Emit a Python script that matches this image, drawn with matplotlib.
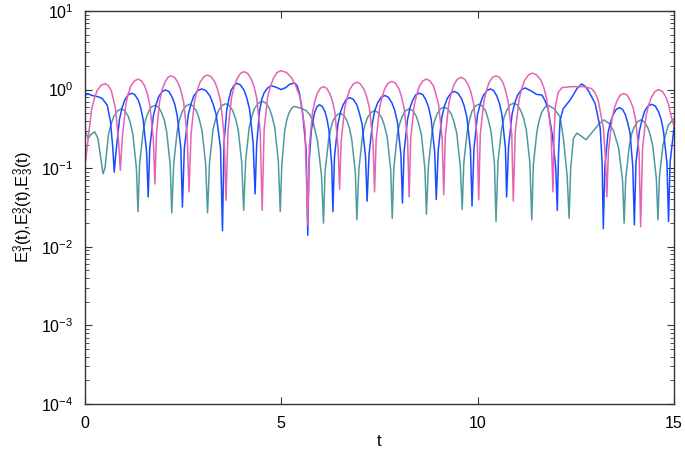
import matplotlib
matplotlib.use("Agg")
import matplotlib.pyplot as plt
from matplotlib.ticker import LogLocator, NullFormatter

plt.rcParams['font.family'] = ['Liberation Sans', 'DejaVu Sans']
plt.rcParams['mathtext.fontset'] = 'custom'
plt.rcParams['mathtext.rm'] = 'Liberation Sans'
plt.rcParams['mathtext.it'] = 'Liberation Sans'

# values, one line per lobe (dip to dip)
t_pink = [0.00, 0.03,
          0.08, 0.18, 0.25, 0.32, 0.42, 0.52, 0.60, 0.68, 0.73, 0.79, 0.87, 0.91,
          0.96, 1.05, 1.11, 1.18, 1.27, 1.36, 1.45, 1.53, 1.60, 1.66, 1.75, 1.79,
          1.83, 1.91, 1.97, 2.04, 2.12, 2.20, 2.29, 2.38, 2.45, 2.52, 2.61, 2.66,
          2.71, 2.80, 2.87, 2.94, 3.04, 3.13, 3.22, 3.32, 3.39, 3.46, 3.55, 3.60,
          3.65, 3.74, 3.81, 3.88, 3.97, 4.06, 4.15, 4.24, 4.31, 4.38, 4.47, 4.52,
          4.57, 4.66, 4.74, 4.81, 4.90, 5.00, 5.14, 5.27, 5.37, 5.48, 5.61, 5.68,
          5.72, 5.80, 5.86, 5.92, 6.00, 6.08, 6.16, 6.24, 6.31, 6.37, 6.45, 6.49,
          6.53, 6.62, 6.69, 6.75, 6.84, 6.93, 7.02, 7.11, 7.18, 7.25, 7.34, 7.38,
          7.42, 7.51, 7.58, 7.64, 7.73, 7.82, 7.91, 8.00, 8.06, 8.13, 8.22, 8.26,
          8.30, 8.39, 8.46, 8.52, 8.61, 8.70, 8.79, 8.88, 8.94, 9.01, 9.10, 9.14,
          9.18, 9.27, 9.34, 9.40, 9.49, 9.58, 9.67, 9.76, 9.83, 9.90, 9.99, 10.03,
          10.07, 10.16, 10.23, 10.29, 10.38, 10.47, 10.56, 10.65, 10.71, 10.78, 10.87, 10.91,
          10.96, 11.06, 11.13, 11.20, 11.30, 11.40, 11.50, 11.61, 11.69, 11.76, 11.87, 11.92,
          11.95, 11.98, 12.05, 12.15, 12.40, 12.70, 12.90, 12.99, 13.07, 13.20, 13.26, 13.29,
          13.33, 13.42, 13.48, 13.55, 13.63, 13.72, 13.81, 13.89, 13.96, 14.02, 14.11, 14.15,
          14.20, 14.29, 14.36, 14.43, 14.52, 14.61, 14.70, 14.79, 14.86, 14.92, 15.00]
E_pink = [0.16, 0.125,
          0.21, 0.56, 0.77, 0.97, 1.13, 1.19, 1.13, 0.97, 0.77, 0.56, 0.21, 0.094,
          0.24, 0.64, 0.88, 1.11, 1.29, 1.36, 1.29, 1.11, 0.88, 0.64, 0.24, 0.063,
          0.27, 0.70, 0.98, 1.22, 1.43, 1.50, 1.43, 1.22, 0.98, 0.70, 0.27, 0.050,
          0.27, 0.72, 0.99, 1.24, 1.46, 1.53, 1.46, 1.24, 0.99, 0.72, 0.27, 0.039,
          0.30, 0.79, 1.10, 1.37, 1.61, 1.69, 1.61, 1.37, 1.10, 0.79, 0.30, 0.029,
          0.31, 0.81, 1.13, 1.41, 1.65, 1.74, 1.65, 1.41, 1.13, 0.81, 0.31, 0.019,
          0.19, 0.51, 0.71, 0.89, 1.04, 1.09, 1.04, 0.89, 0.71, 0.51, 0.19, 0.054,
          0.22, 0.58, 0.81, 1.01, 1.18, 1.24, 1.18, 1.01, 0.81, 0.58, 0.22, 0.050,
          0.23, 0.59, 0.83, 1.03, 1.21, 1.27, 1.21, 1.03, 0.83, 0.59, 0.23, 0.043,
          0.24, 0.64, 0.88, 1.11, 1.29, 1.36, 1.29, 1.11, 0.88, 0.64, 0.24, 0.046,
          0.25, 0.67, 0.93, 1.16, 1.36, 1.43, 1.36, 1.16, 0.93, 0.67, 0.25, 0.040,
          0.27, 0.70, 0.98, 1.22, 1.43, 1.50, 1.43, 1.22, 0.98, 0.70, 0.27, 0.038,
          0.29, 0.76, 1.05, 1.32, 1.54, 1.62, 1.54, 1.32, 1.05, 0.76, 0.29, 0.050,
          0.30, 0.60, 0.92, 1.06, 1.09, 1.09, 1.03, 0.91, 0.73, 0.33, 0.12, 0.043,
          0.16, 0.42, 0.58, 0.72, 0.85, 0.89, 0.85, 0.72, 0.58, 0.42, 0.16, 0.018,
          0.18, 0.47, 0.65, 0.81, 0.95, 1.00, 0.95, 0.81, 0.65, 0.47, 0.34]

t_blue = [0.00, 0.08, 0.20, 0.35, 0.45, 0.58, 0.66, 0.72, 0.755,
          0.80, 0.89, 0.955, 1.02, 1.11, 1.20, 1.28, 1.37, 1.43, 1.49, 1.58, 1.62,
          1.66, 1.75, 1.82, 1.88, 1.97, 2.06, 2.15, 2.23, 2.30, 2.36, 2.45, 2.49,
          2.54, 2.64, 2.71, 2.78, 2.88, 2.98, 3.09, 3.19, 3.27, 3.35, 3.46, 3.51,
          3.55, 3.62, 3.68, 3.73, 3.81, 3.88, 3.97, 4.06, 4.13, 4.20, 4.29, 4.34,
          4.38, 4.45, 4.51, 4.57, 4.66, 4.75, 4.88, 5.00, 5.12, 5.21, 5.34, 5.41, 5.47, 5.55, 5.64, 5.68,
          5.71, 5.77, 5.82, 5.86, 5.92, 5.98, 6.05, 6.12, 6.17, 6.22, 6.29, 6.32,
          6.36, 6.45, 6.51, 6.58, 6.66, 6.75, 6.84, 6.93, 6.99, 7.06, 7.15, 7.19,
          7.24, 7.33, 7.39, 7.46, 7.55, 7.64, 7.73, 7.82, 7.89, 7.96, 8.05, 8.09,
          8.13, 8.22, 8.28, 8.35, 8.43, 8.52, 8.61, 8.69, 8.76, 8.82, 8.91, 8.95,
          9.00, 9.09, 9.16, 9.23, 9.32, 9.41, 9.50, 9.59, 9.66, 9.73, 9.82, 9.86,
          9.91, 10.00, 10.07, 10.14, 10.24, 10.33, 10.41, 10.49, 10.56, 10.62, 10.71, 10.74,
          10.79, 10.88, 10.95, 11.02, 11.12, 11.21, 11.35, 11.50, 11.64, 11.72, 11.80, 11.91, 11.99, 12.03,
          12.06, 12.10, 12.18, 12.35, 12.45, 12.53, 12.65, 12.74, 12.82, 12.99, 13.12, 13.17, 13.20,
          13.24, 13.32, 13.38, 13.45, 13.53, 13.61, 13.69, 13.76, 13.82, 13.88, 13.95, 13.99,
          14.03, 14.12, 14.19, 14.25, 14.34, 14.43, 14.52, 14.60, 14.67, 14.73, 14.82, 14.86,
          14.90, 15.00]
E_blue = [0.84, 0.88, 0.84, 0.81, 0.77, 0.63, 0.39, 0.18, 0.089,
          0.16, 0.42, 0.585, 0.73, 0.86, 0.90, 0.86, 0.73, 0.585, 0.42, 0.16, 0.043,
          0.18, 0.46, 0.64, 0.80, 0.94, 0.99, 0.94, 0.80, 0.64, 0.46, 0.18, 0.032,
          0.18, 0.48, 0.66, 0.83, 0.97, 1.02, 0.97, 0.83, 0.66, 0.48, 0.18, 0.016,
          0.21, 0.56, 0.78, 0.98, 1.14, 1.20, 1.14, 0.98, 0.78, 0.56, 0.21, 0.047,
          0.20, 0.52, 0.75, 0.91, 1.05, 1.12, 1.07, 1.00, 1.06, 1.16, 1.22, 1.12, 0.89, 0.50, 0.17, 0.014,
          0.11, 0.30, 0.42, 0.52, 0.61, 0.64, 0.61, 0.52, 0.42, 0.30, 0.11, 0.028,
          0.14, 0.37, 0.51, 0.64, 0.75, 0.79, 0.75, 0.64, 0.51, 0.37, 0.14, 0.038,
          0.15, 0.39, 0.55, 0.68, 0.80, 0.84, 0.80, 0.68, 0.55, 0.39, 0.15, 0.036,
          0.16, 0.42, 0.585, 0.73, 0.86, 0.90, 0.86, 0.73, 0.585, 0.42, 0.16, 0.040,
          0.17, 0.44, 0.62, 0.77, 0.90, 0.95, 0.90, 0.77, 0.62, 0.44, 0.17, 0.033,
          0.18, 0.48, 0.66, 0.83, 0.97, 1.02, 0.97, 0.83, 0.66, 0.48, 0.18, 0.043,
          0.19, 0.49, 0.68, 0.85, 1.00, 1.05, 0.97, 0.87, 0.85, 0.72, 0.55, 0.25, 0.10, 0.029,
          0.15, 0.41, 0.57, 0.73, 0.88, 1.03, 1.18, 1.10, 0.97, 0.67, 0.33, 0.12, 0.017,
          0.105, 0.28, 0.38, 0.48, 0.56, 0.59, 0.56, 0.48, 0.38, 0.28, 0.105, 0.019,
          0.116, 0.30, 0.42, 0.53, 0.62, 0.65, 0.62, 0.53, 0.42, 0.30, 0.116, 0.021,
          0.12, 0.33]

t_teal = [0.00, 0.09, 0.17, 0.26, 0.34, 0.40, 0.47,
          0.52, 0.61, 0.68, 0.75, 0.85, 0.94, 1.02, 1.11, 1.17, 1.23, 1.32, 1.36,
          1.40, 1.49, 1.55, 1.62, 1.70, 1.79, 1.88, 1.96, 2.03, 2.09, 2.18, 2.22,
          2.27, 2.36, 2.42, 2.49, 2.58, 2.67, 2.76, 2.85, 2.92, 2.99, 3.08, 3.13,
          3.18, 3.27, 3.34, 3.41, 3.50, 3.59, 3.68, 3.77, 3.84, 3.91, 4.00, 4.05,
          4.10, 4.19, 4.26, 4.33, 4.43, 4.52, 4.61, 4.70, 4.77, 4.84, 4.93, 4.98,
          5.02, 5.09, 5.14, 5.20, 5.27, 5.34, 5.50, 5.64, 5.73, 5.81, 5.93, 6.03, 6.08,
          6.12, 6.21, 6.27, 6.33, 6.42, 6.50, 6.59, 6.67, 6.74, 6.80, 6.89, 6.93,
          6.98, 7.07, 7.13, 7.20, 7.29, 7.38, 7.47, 7.56, 7.63, 7.70, 7.79, 7.83,
          7.87, 7.96, 8.02, 8.09, 8.17, 8.26, 8.35, 8.44, 8.50, 8.57, 8.66, 8.70,
          8.75, 8.84, 8.90, 8.97, 9.06, 9.15, 9.24, 9.33, 9.40, 9.47, 9.56, 9.61,
          9.65, 9.74, 9.80, 9.86, 9.95, 10.03, 10.12, 10.21, 10.27, 10.34, 10.43, 10.47,
          10.52, 10.61, 10.67, 10.74, 10.83, 10.92, 11.01, 11.10, 11.17, 11.24, 11.33, 11.38,
          11.42, 11.51, 11.57, 11.63, 11.72, 11.80, 11.95, 12.10, 12.18, 12.28, 12.33,
          12.37, 12.44, 12.53, 12.62, 12.76, 12.95, 13.10, 13.22, 13.35, 13.46, 13.59, 13.69, 13.73,
          13.77, 13.86, 13.92, 13.98, 14.07, 14.15, 14.24, 14.33, 14.39, 14.46, 14.55, 14.59,
          14.63, 14.72, 14.85, 15.00]
E_teal = [0.32, 0.24, 0.27, 0.29, 0.24, 0.15, 0.085,
          0.10, 0.27, 0.37, 0.46, 0.54, 0.57, 0.54, 0.46, 0.37, 0.27, 0.10, 0.028,
          0.11, 0.29, 0.41, 0.51, 0.60, 0.63, 0.60, 0.51, 0.41, 0.29, 0.11, 0.027,
          0.116, 0.30, 0.42, 0.53, 0.62, 0.65, 0.62, 0.53, 0.42, 0.30, 0.116, 0.027,
          0.117, 0.31, 0.43, 0.54, 0.63, 0.66, 0.63, 0.54, 0.43, 0.31, 0.117, 0.029,
          0.126, 0.33, 0.46, 0.58, 0.675, 0.71, 0.675, 0.58, 0.46, 0.33, 0.126, 0.028,
          0.11, 0.29, 0.40, 0.50, 0.58, 0.61, 0.58, 0.54, 0.48, 0.40, 0.22, 0.08, 0.020,
          0.089, 0.23, 0.325, 0.41, 0.475, 0.50, 0.475, 0.41, 0.325, 0.23, 0.089, 0.022,
          0.096, 0.25, 0.35, 0.44, 0.51, 0.54, 0.51, 0.44, 0.35, 0.25, 0.096, 0.023,
          0.10, 0.27, 0.37, 0.46, 0.54, 0.57, 0.54, 0.46, 0.37, 0.27, 0.10, 0.026,
          0.107, 0.28, 0.39, 0.49, 0.57, 0.60, 0.57, 0.49, 0.39, 0.28, 0.107, 0.030,
          0.116, 0.30, 0.42, 0.53, 0.62, 0.65, 0.62, 0.53, 0.42, 0.30, 0.116, 0.021,
          0.12, 0.31, 0.435, 0.54, 0.64, 0.67, 0.64, 0.54, 0.435, 0.31, 0.12, 0.022,
          0.11, 0.29, 0.41, 0.51, 0.60, 0.63, 0.57, 0.45, 0.25, 0.08, 0.023,
          0.10, 0.24, 0.28, 0.26, 0.23, 0.30, 0.37, 0.41, 0.37, 0.30, 0.18, 0.07, 0.020,
          0.073, 0.19, 0.27, 0.33, 0.39, 0.41, 0.39, 0.33, 0.27, 0.19, 0.073, 0.022,
          0.08, 0.20, 0.35, 0.43]

x_ticks = [0, 5, 10, 15]

# figure
fig = plt.figure(figsize=(6.85, 4.58), dpi=100)
ax = fig.add_axes([0.1234, 0.118, 0.8606, 0.858])

ax.plot(t_teal, E_teal, color='#4f9a9c', lw=1.1)
ax.plot(t_blue, E_blue, color='#1a4cff', lw=1.1)
ax.plot(t_pink, E_pink, color='#e562b4', lw=1.1)

ax.set_yscale('log')
ax.set_xlim(0, 15)
ax.set_ylim(1e-4, 1e1)
ax.set_xticks(x_ticks)
ax.yaxis.set_major_locator(LogLocator(base=10, numticks=10))
ax.yaxis.set_minor_locator(LogLocator(base=10, subs=range(2, 10), numticks=20))
ax.yaxis.set_minor_formatter(NullFormatter())

ax.tick_params(which='both', direction='in', top=True, right=True,
               color='#333333', labelsize=11.5, labelcolor='black')
ax.tick_params(which='major', length=5, width=0.8)
ax.tick_params(which='minor', length=3, width=0.6)
ax.tick_params(axis='x', pad=9)
ax.tick_params(axis='y', pad=8)
for s in ax.spines.values():
    s.set_color('#333333')
    s.set_linewidth(1.0)

ax.set_xlabel('t', fontsize=12, labelpad=2)
ax.set_ylabel(r'E$_1^3$(t),E$_2^3$(t),E$_3^3$(t)', fontsize=12, labelpad=4)

fig.savefig('out.png', dpi=100)
